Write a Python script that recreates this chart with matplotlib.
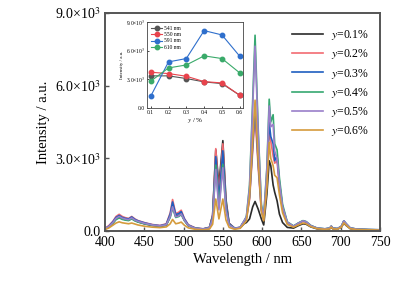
import numpy as np
import matplotlib
matplotlib.use("Agg")
import matplotlib.pyplot as plt
from matplotlib.ticker import FuncFormatter

plt.rcParams['font.family'] = ['Liberation Serif', 'DejaVu Serif']
plt.rcParams['mathtext.fontset'] = 'stix'

# ---- emission spectra ----
wavelength = [400, 405, 410, 414, 418, 422, 426, 430, 434, 438, 442, 450, 460, 470,
              478, 483, 486, 490, 494, 497, 501, 506, 515, 525, 533, 537, 541, 545,
              550, 554, 558, 565, 572, 577, 580, 584, 588, 591, 595, 599, 602, 606,
              609, 611, 614, 616, 619, 622, 626, 632, 640, 646, 652, 656, 662, 670,
              680, 686, 688, 690, 696, 701, 704, 707, 712, 720, 735, 750]

y01 = [90, 180, 330, 500, 580, 510, 470, 450, 540, 440, 380, 300, 230, 190,
       240, 620, 1100, 600, 650, 720, 450, 220, 110, 80, 140, 650, 3350, 1900,
       3730, 1300, 320, 110, 130, 300, 350, 500, 1000, 1220, 900, 500, 250, 1500,
       2900, 2700, 1900, 1600, 1250, 700, 350, 150, 120, 220, 300, 280, 170, 90,
       70, 90, 150, 90, 80, 160, 330, 230, 100, 60, 50, 40]

y02 = [110, 230, 400, 600, 690, 600, 550, 520, 600, 500, 430, 350, 270, 230,
       300, 750, 1300, 720, 780, 860, 520, 260, 130, 90, 160, 650, 3400, 1500,
       3600, 1150, 310, 120, 150, 380, 500, 1300, 3300, 4810, 2600, 850, 450, 2000,
       4180, 3700, 3100, 2800, 2900, 1800, 900, 320, 190, 300, 400, 360, 210, 110,
       80, 110, 190, 110, 90, 190, 400, 280, 120, 70, 55, 45]

y03 = [100, 200, 380, 560, 640, 560, 520, 500, 580, 480, 420, 340, 260, 220,
       280, 700, 1200, 680, 720, 800, 500, 250, 120, 90, 150, 600, 3070, 1300,
       3310, 1100, 300, 120, 150, 400, 550, 1400, 3500, 5160, 2800, 900, 500, 2200,
       4490, 3900, 3600, 2900, 3100, 2000, 1000, 350, 200, 320, 420, 380, 220, 120,
       90, 120, 200, 120, 100, 200, 420, 300, 130, 80, 60, 50]

y04 = [80, 170, 320, 470, 540, 480, 450, 430, 500, 420, 370, 300, 240, 200,
       250, 560, 950, 560, 600, 680, 430, 220, 110, 80, 130, 520, 2720, 1000,
       2750, 900, 260, 110, 150, 420, 600, 1900, 5400, 8080, 4200, 1100, 600, 2600,
       5440, 4500, 4800, 3600, 3350, 2200, 1100, 380, 210, 330, 430, 390, 230, 120,
       90, 120, 200, 120, 100, 200, 420, 300, 130, 80, 60, 50]

y05 = [90, 190, 350, 520, 600, 530, 490, 470, 540, 450, 400, 320, 250, 210,
       260, 600, 1000, 590, 630, 710, 450, 230, 110, 80, 130, 500, 2540, 870,
       2610, 850, 250, 110, 150, 420, 580, 1800, 5100, 7630, 4000, 1050, 560, 2500,
       5160, 4300, 4400, 3300, 3000, 2000, 1000, 360, 200, 320, 420, 380, 220, 120,
       90, 120, 200, 120, 100, 200, 420, 300, 130, 80, 60, 50]

y06 = [60, 130, 240, 330, 380, 340, 320, 300, 330, 290, 250, 200, 160, 140,
       170, 300, 480, 300, 330, 370, 240, 130, 70, 50, 80, 280, 1320, 500,
       1320, 450, 150, 70, 110, 300, 420, 1400, 3700, 5400, 2900, 800, 420, 1800,
       3660, 3000, 2700, 2300, 2200, 1500, 750, 270, 160, 250, 330, 300, 180, 100,
       70, 90, 160, 90, 80, 160, 340, 240, 100, 60, 50, 40]

labels = ['$y$=0.1%', '$y$=0.2%', '$y$=0.3%', '$y$=0.4%', '$y$=0.5%', '$y$=0.6%']
colors = ['#2b2b2b', '#f26b72', '#1f5fc0', '#36a871', '#9a7fc9', '#d59b3c']

# ---- inset: peak intensity vs concentration ----
conc = [0.1, 0.2, 0.3, 0.4, 0.5, 0.6]
peak541 = [3350, 3350, 3070, 2720, 2540, 1320]
peak550 = [3730, 3590, 3310, 2750, 2610, 1320]
peak591 = [1220, 4810, 5160, 8080, 7630, 5400]
peak610 = [2790, 4180, 4490, 5440, 5160, 3660]
peak_labels = ['541 nm', '550 nm', '591 nm', '610 nm']
peak_colors = ['#555555', '#e8434c', '#2f6fcc', '#3aaa6a']


def sci_fmt(v, pos):
    if v == 0:
        return '0.0'
    e = int(np.floor(np.log10(abs(v))))
    return '%.1f×10$^{%d}$' % (v / 10**e, e)


fig = plt.figure(figsize=(4.11, 2.87), dpi=100)
ax = fig.add_axes([0.2555, 0.195, 0.669, 0.76])

for ys, lab, c in zip([y01, y02, y03, y04, y05, y06], labels, colors):
    ax.plot(wavelength, ys, color=c, lw=1.2, label=lab)

ax.set_xlim(400, 750)
ax.set_ylim(0, 9000)
ax.set_xticks([400, 450, 500, 550, 600, 650, 700, 750])
ax.set_yticks([0, 3000, 6000, 9000])
ax.yaxis.set_major_formatter(FuncFormatter(sci_fmt))
ax.tick_params(direction='in', labelsize=10, length=3, width=1, color='#555555')
ax.set_xlabel('Wavelength / nm', fontsize=10.5, labelpad=3)
ax.set_ylabel('Intensity / a.u.', fontsize=10.5, labelpad=3)
for s in ax.spines.values():
    s.set_linewidth(1.4)
    s.set_color('#555555')

ax.legend(loc='upper right', bbox_to_anchor=(1.0, 0.98), frameon=False,
          fontsize=8.5, handlelength=2.6, labelspacing=0.45, handletextpad=0.7)

ins = fig.add_axes([0.358, 0.624, 0.234, 0.30])
for ys, lab, c in zip([peak541, peak550, peak591, peak610], peak_labels, peak_colors):
    ins.plot(conc, ys, color=c, lw=0.8, marker='o', ms=3.2, mec=c,
             mfc=c, label=lab)
ins.set_xlim(0.08, 0.62)
ins.set_ylim(0, 9000)
ins.set_xticks(conc)
ins.set_yticks([0, 3000, 6000, 9000])
ins.yaxis.set_major_formatter(FuncFormatter(sci_fmt))
ins.tick_params(direction='in', labelsize=4, length=1.5, width=0.5, pad=1.5)
ins.set_xlabel('$y$ / %', fontsize=5, labelpad=0.5)
ins.set_ylabel('Intensity / a.u.', fontsize=3.5, labelpad=1)
for s in ins.spines.values():
    s.set_linewidth(0.6)
    s.set_color('#444444')
ins.legend(loc='upper left', frameon=False, fontsize=4, handlelength=2.0,
           labelspacing=0.25, handletextpad=0.4, borderaxespad=0.3)

fig.savefig('out.png', dpi=100)
